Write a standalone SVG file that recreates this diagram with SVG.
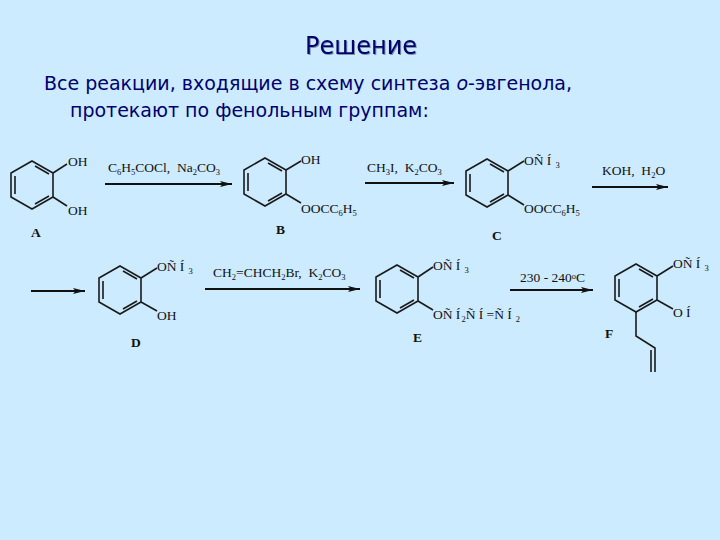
<svg xmlns="http://www.w3.org/2000/svg" xmlns:xlink="http://www.w3.org/1999/xlink" width="720" height="540" viewBox="0 0 720 540">
<style>
.h{font-family:"DejaVu Sans","Noto Sans",sans-serif;fill:#00006e}
.t{filter:drop-shadow(1px 1px 0.5px #7f94a8)}
.c{font-family:"Liberation Serif",serif;font-size:13.500px;fill:#111}
.l{font-family:"Liberation Serif",serif;font-size:13.500px;font-weight:bold;fill:#111}
.s{font-size:8.5px}
.b{fill:none;stroke:#1a1a1a;stroke-width:1.6}
.a{fill:none;stroke:#111;stroke-width:1.8;marker-end:url(#ah)}
</style>
<defs>
<marker id="ah" markerUnits="userSpaceOnUse" markerWidth="13" markerHeight="8" refX="12" refY="4" orient="auto"><path d="M0 1L12 4L0 7L2.500 4Z" fill="#111"/></marker>
<g id="ring"><path class="b" d="M0 -24L21 -12V12L0 24L-21 12V-12Z"/><path class="b" d="M-17 -9V9M3 -19L17 -11M3 19L17 11"/></g>
</defs>
<rect width="720" height="540" fill="#CCEBFF"/>
<g id="title">
<text class="h t" x="305" y="54" font-size="24" textLength="112" lengthAdjust="spacingAndGlyphs">Решение</text>
<text class="h" x="44" y="90" font-size="19">Все реакции, входящие в схему синтеза <tspan font-style="italic">о</tspan>-эвгенола,</text>
<text class="h" x="70" y="117" font-size="19">протекают по фенольным группам:</text>
</g>
<g id="connectors">
<line class="a" x1="105" y1="184" x2="232" y2="184"/>
<line class="a" x1="365" y1="183" x2="454" y2="183"/>
<line class="a" x1="592" y1="187" x2="668" y2="187"/>
<line class="a" x1="31" y1="291" x2="85" y2="291"/>
<line class="a" x1="205" y1="289" x2="360" y2="289"/>
<line class="a" x1="510" y1="290" x2="593" y2="290"/>
</g>
<g id="reagents">
<text class="c" x="108" y="172">C<tspan class="s" dy="3">6</tspan><tspan dy="-3">H</tspan><tspan class="s" dy="3">5</tspan><tspan dy="-3">COCl,&#160; Na</tspan><tspan class="s" dy="3">2</tspan><tspan dy="-3">CO</tspan><tspan class="s" dy="3">3</tspan></text>
<text class="c" x="367" y="172">CH<tspan class="s" dy="3">3</tspan><tspan dy="-3">I,&#160; K</tspan><tspan class="s" dy="3">2</tspan><tspan dy="-3">CO</tspan><tspan class="s" dy="3">3</tspan></text>
<text class="c" x="602" y="175">KOH,&#160; H<tspan class="s" dy="3">2</tspan><tspan dy="-3">O</tspan></text>
<text class="c" x="213" y="277">CH<tspan class="s" dy="3">2</tspan><tspan dy="-3">=CHCH</tspan><tspan class="s" dy="3">2</tspan><tspan dy="-3">Br,&#160; K</tspan><tspan class="s" dy="3">2</tspan><tspan dy="-3">CO</tspan><tspan class="s" dy="3">3</tspan></text>
<text class="c" x="520" y="282">230 - 240<tspan class="s" dy="-3">o</tspan><tspan dy="3">C</tspan></text>
</g>
<g id="A">
<use xlink:href="#ring" href="#ring" x="32" y="185"/>
<path class="b" d="M53 173L67 164M53 197L67 206"/>
<text class="c" x="68" y="166">OH</text><text class="c" x="68" y="215">OH</text>
<text class="l" x="31" y="237">A</text>
</g>
<g id="B">
<use xlink:href="#ring" href="#ring" x="265" y="182"/>
<path class="b" d="M286 170L301 161M286 194L301 203"/>
<text class="c" x="301" y="164">OH</text>
<text class="c" x="301" y="213">OOCC<tspan class="s" dy="3">6</tspan><tspan dy="-3">H</tspan><tspan class="s" dy="3">5</tspan></text>
<text class="l" x="276" y="234">B</text>
</g>
<g id="C">
<use xlink:href="#ring" href="#ring" x="487" y="183"/>
<path class="b" d="M508 171L524 161M508 195L524 205"/>
<text class="c" x="524" y="165">OÑ Í<tspan class="s" dx="4" dy="3">3</tspan></text>
<text class="c" x="524" y="213">OOCC<tspan class="s" dy="3">6</tspan><tspan dy="-3">H</tspan><tspan class="s" dy="3">5</tspan></text>
<text class="l" x="492" y="240">C</text>
</g>
<g id="D">
<use xlink:href="#ring" href="#ring" x="120" y="290"/>
<path class="b" d="M141 278L157 268M141 302L157 311"/>
<text class="c" x="157" y="271">OÑ Í<tspan class="s" dx="4" dy="3">3</tspan></text>
<text class="c" x="157" y="320">OH</text>
<text class="l" x="131" y="347">D</text>
</g>
<g id="E">
<use xlink:href="#ring" href="#ring" x="397" y="289"/>
<path class="b" d="M418 277L433 267M418 301L433 310"/>
<text class="c" x="433" y="270">OÑ Í<tspan class="s" dx="4" dy="3">3</tspan></text>
<text class="c" x="433" y="319">OÑ Í<tspan class="s" dx="1" dy="3">2</tspan><tspan dy="-3">Ñ Í =Ñ Í</tspan><tspan class="s" dx="4" dy="3">2</tspan></text>
<text class="l" x="413" y="342">E</text>
</g>
<g id="F">
<use xlink:href="#ring" href="#ring" x="636" y="288"/>
<path class="b" d="M657 276L673 266M657 300L673 309M636 312V336L655 348V372M651 350V372"/>
<text class="c" x="673" y="268">OÑ Í<tspan class="s" dx="4" dy="3">3</tspan></text>
<text class="c" x="673" y="317">O Í</text>
<text class="l" x="605" y="338">F</text>
</g>
</svg>
